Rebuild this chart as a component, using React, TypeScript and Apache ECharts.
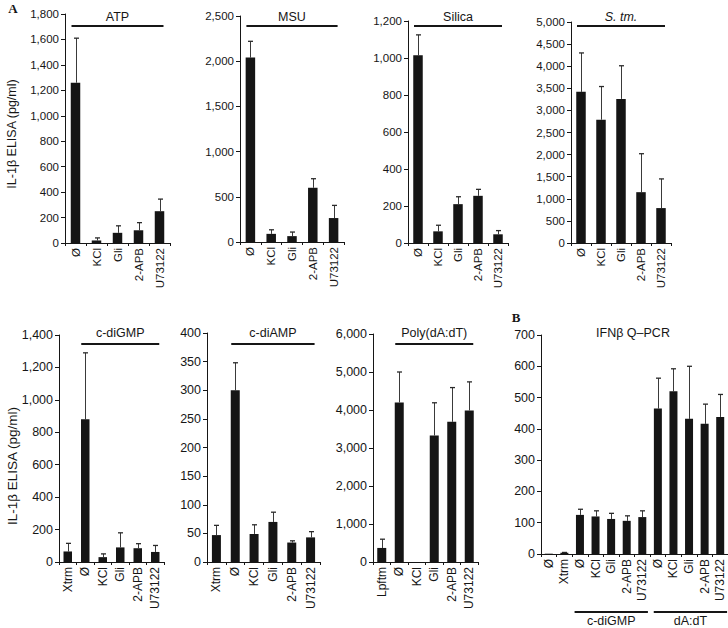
import React, { useEffect, useRef } from "react";
import * as echarts from "echarts";

// ---------- data ----------
const CAT_TOP = ["Ø", "KCl", "Gli", "2-APB", "U73122"];
const CAT_CDN = ["Xtrm", "Ø", "KCl", "Gli", "2-APB", "U73122"];
const CAT_POLY = ["Lpftm", "Ø", "KCl", "Gli", "2-APB", "U73122"];
const CAT_IFN = ["Ø", "Xtrm", "Ø", "KCl", "Gli", "2-APB", "U73122", "Ø", "KCl", "Gli", "2-APB", "U73122"];

const atpMean = [1260, 20, 80, 100, 250];
const atpErr = [350, 20, 55, 60, 95];
const msuMean = [2040, 90, 65, 600, 265];
const msuErr = [180, 45, 45, 100, 140];
const silicaMean = [1015, 63, 210, 255, 47];
const silicaErr = [110, 33, 40, 35, 20];
const stmMean = [3420, 2790, 3260, 1150, 790];
const stmErr = [880, 750, 750, 870, 660];
const cdigmpMean = [65, 880, 30, 90, 85, 62];
const cdigmpErr = [50, 410, 20, 90, 28, 40];
const cdiampMean = [47, 300, 49, 70, 34, 43];
const cdiampErr = [17, 48, 16, 17, 3, 10];
const polyMean = [370, 4200, 0, 3330, 3690, 3990];
const polyErr = [230, 800, 0, 860, 900, 750];
const ifnMean = [1, 4, 125, 120, 112, 106, 118, 465, 520, 432, 416, 438];
const ifnErr = [0, 1, 18, 18, 18, 16, 20, 97, 72, 168, 63, 72];

const yMax = [1800, 2500, 1200, 5000, 1400, 400, 6000, 700];
const yStep = [200, 500, 200, 500, 200, 50, 1000, 100];

const FONT = "'Liberation Sans', Arial, Helvetica, sans-serif";
const INK = "#161616";

type Panel = {
  cats: string[];
  mean: number[];
  err: number[];
  grid: { left: number; top: number; width: number; height: number };
  barWidth: number;
  tickFont: number;
  catFont: number;
  title: string;
  italic?: boolean;
  span?: [number, number];
  lineY: number;
  titleY: number;
};

const panels: Panel[] = [
  { cats: CAT_TOP, mean: atpMean, err: atpErr, grid: { left: 65, top: 14, width: 105, height: 229 }, barWidth: 9.5, tickFont: 11.5, catFont: 11.5, title: "ATP", span: [0, 4], lineY: 26, titleY: 17 },
  { cats: CAT_TOP, mean: msuMean, err: msuErr, grid: { left: 240, top: 16, width: 104, height: 226 }, barWidth: 9.5, tickFont: 11.5, catFont: 11.5, title: "MSU", span: [0, 4], lineY: 26, titleY: 17 },
  { cats: CAT_TOP, mean: silicaMean, err: silicaErr, grid: { left: 408, top: 21, width: 100, height: 222 }, barWidth: 9.5, tickFont: 11.5, catFont: 11.5, title: "Silica", span: [0, 4], lineY: 26, titleY: 17 },
  { cats: CAT_TOP, mean: stmMean, err: stmErr, grid: { left: 571, top: 22, width: 100, height: 221 }, barWidth: 9.5, tickFont: 11.5, catFont: 11.5, title: "S. tm.", italic: true, span: [0, 4], lineY: 26, titleY: 17 },
  { cats: CAT_CDN, mean: cdigmpMean, err: cdigmpErr, grid: { left: 59, top: 335, width: 105, height: 227 }, barWidth: 8.5, tickFont: 12.5, catFont: 12, title: "c-diGMP", span: [1, 5], lineY: 344, titleY: 333 },
  { cats: CAT_CDN, mean: cdiampMean, err: cdiampErr, grid: { left: 207, top: 333, width: 113, height: 229 }, barWidth: 9, tickFont: 12.5, catFont: 12, title: "c-diAMP", span: [1, 5], lineY: 344, titleY: 333 },
  { cats: CAT_POLY, mean: polyMean, err: polyErr, grid: { left: 373, top: 334, width: 105, height: 228 }, barWidth: 9, tickFont: 12.5, catFont: 12, title: "Poly(dA:dT)", span: [1, 5], lineY: 344, titleY: 333 },
  { cats: CAT_IFN, mean: ifnMean, err: ifnErr, grid: { left: 541, top: 335, width: 190, height: 219 }, barWidth: 8, tickFont: 12.5, catFont: 12, title: "IFNβ Q–PCR", lineY: 0, titleY: 333 },
];

const fmt = (v: number) => v.toLocaleString("en-US");

export default function App() {
  const ref = useRef<HTMLDivElement>(null);
  useEffect(() => {
    if (!ref.current) return;
    const chart = echarts.init(ref.current, undefined, { renderer: "svg" });

    const grids: any[] = [];
    const xAxes: any[] = [];
    const yAxes: any[] = [];
    const series: any[] = [];
    const graphics: any[] = [];

    panels.forEach((p, k) => {
      grids.push({ ...p.grid, containLabel: false });
      xAxes.push({
        type: "category",
        gridIndex: k,
        data: p.cats.map((c, i) => c + "#" + i),
        axisLine: { lineStyle: { color: INK, width: 1 } },
        axisTick: { show: true, length: 3, lineStyle: { color: INK } },
        axisLabel: {
          rotate: 90,
          margin: 5,
          fontSize: p.catFont,
          fontFamily: FONT,
          color: INK,
          interval: 0,
          formatter: (v: string) => v.split("#")[0],
        },
      });
      yAxes.push({
        type: "value",
        gridIndex: k,
        min: 0,
        max: yMax[k],
        interval: yStep[k],
        splitLine: { show: false },
        axisLine: { show: true, lineStyle: { color: INK, width: 1 } },
        axisTick: { show: true, length: 4, lineStyle: { color: INK } },
        axisLabel: { margin: 6, fontSize: p.tickFont, fontFamily: FONT, color: INK, formatter: fmt },
      });
      series.push({
        type: "bar",
        xAxisIndex: k,
        yAxisIndex: k,
        barWidth: p.barWidth,
        itemStyle: { color: "#151515" },
        data: p.mean,
      });
      series.push({
        type: "custom",
        xAxisIndex: k,
        yAxisIndex: k,
        encode: { x: 0, y: 1 },
        data: p.mean.map((m, i) => [i, m, p.err[i]]),
        renderItem: (params: any, api: any) => {
          const i = api.value(0);
          const v = api.value(1);
          const e = api.value(2);
          if (!e) return null;
          const p0 = api.coord([i, v]);
          const p1 = api.coord([i, v + e]);
          const x = Math.round(p0[0]) + 0.5;
          return {
            type: "group",
            children: [
              { type: "line", shape: { x1: x, y1: p0[1], x2: x, y2: p1[1] }, style: { stroke: "#3a3a3a", lineWidth: 1 } },
              { type: "line", shape: { x1: x - 2.5, y1: p1[1], x2: x + 2.5, y2: p1[1] }, style: { stroke: "#2a2a2a", lineWidth: 1.3 } },
            ],
          };
        },
      });

      const step = p.grid.width / p.cats.length;
      const c = (i: number) => p.grid.left + (i + 0.5) * step;
      if (p.span) {
        const x1 = c(p.span[0]) - 4;
        const x2 = c(p.span[1]) + 4;
        graphics.push({ type: "line", shape: { x1, y1: p.lineY, x2, y2: p.lineY }, style: { stroke: INK, lineWidth: 1.8 } });
        graphics.push({
          type: "text",
          x: (x1 + x2) / 2,
          y: p.titleY,
          style: { text: p.title, fill: INK, font: `${p.italic ? "italic " : ""}12.5px ${FONT}`, align: "center", verticalAlign: "middle", textAlign: "center", textVerticalAlign: "middle" },
        });
      } else {
        graphics.push({
          type: "text",
          x: 633,
          y: p.titleY,
          style: { text: p.title, fill: INK, font: `12.5px ${FONT}`, align: "center", verticalAlign: "middle", textAlign: "center", textVerticalAlign: "middle" },
        });
        const groups: [number, number, string][] = [
          [2, 6, "c-diGMP"],
          [7, 11, "dA:dT"],
        ];
        groups.forEach(([a, b, name]) => {
          const x1 = c(a) - 6;
          const x2 = c(b) + 4;
          graphics.push({ type: "line", shape: { x1, y1: 612, x2, y2: 612 }, style: { stroke: INK, lineWidth: 1.8 } });
          graphics.push({
            type: "text",
            x: (x1 + x2) / 2,
            y: 621,
            style: { text: name, fill: INK, font: `12.5px ${FONT}`, align: "center", verticalAlign: "middle", textAlign: "center", textVerticalAlign: "middle" },
          });
        });
      }
    });

    const yName = "IL-1β ELISA (pg/ml)";
    graphics.push({ type: "text", x: 12, y: 134, rotation: Math.PI / 2, style: { text: yName, fill: INK, font: `12.5px ${FONT}`, align: "center", verticalAlign: "middle", textAlign: "center", textVerticalAlign: "middle" } });
    graphics.push({ type: "text", x: 12, y: 466, rotation: Math.PI / 2, style: { text: yName, fill: INK, font: `13.5px ${FONT}`, align: "center", verticalAlign: "middle", textAlign: "center", textVerticalAlign: "middle" } });
    graphics.push({ type: "text", x: 13, y: 8, style: { text: "A", fill: INK, font: `bold 13px 'Liberation Serif', serif`, align: "center", verticalAlign: "middle", textAlign: "center", textVerticalAlign: "middle" } });
    graphics.push({ type: "text", x: 516, y: 317, style: { text: "B", fill: INK, font: `bold 13px 'Liberation Serif', serif`, align: "center", verticalAlign: "middle", textAlign: "center", textVerticalAlign: "middle" } });

    chart.setOption({
      animation: false,
      backgroundColor: "#ffffff",
      grid: grids,
      xAxis: xAxes,
      yAxis: yAxes,
      series,
      graphic: graphics,
    });
    return () => chart.dispose();
  }, []);
  return <div ref={ref} style={{ position: "fixed", left: 0, top: 0, width: 728, height: 628 }} />;
}
